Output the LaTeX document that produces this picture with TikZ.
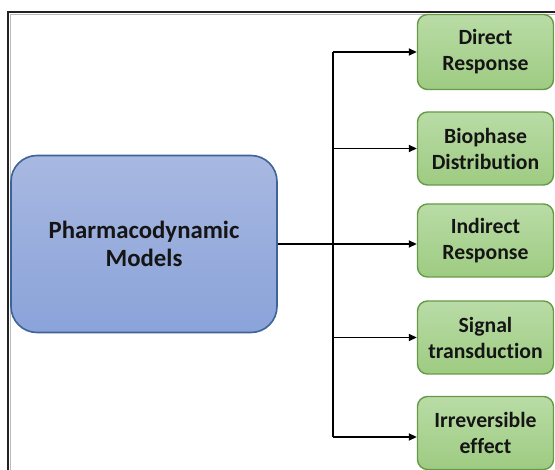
\documentclass[tikz,border=0pt]{standalone}
\usepackage{fontspec}
\setmainfont[Ligatures=NoCommon]{Carlito}
\usetikzlibrary{arrows.meta}
\definecolor{frameline}{HTML}{222222}
\definecolor{frameshade}{HTML}{BBBBBB}
\definecolor{bluetop}{HTML}{A8B8E1}
\definecolor{bluebot}{HTML}{8AA3D9}
\definecolor{blueedge}{HTML}{3F6298}
\definecolor{greentop}{HTML}{B9DCA6}
\definecolor{greenbot}{HTML}{9ECB82}
\definecolor{greenedge}{HTML}{679A47}
\definecolor{inktext}{HTML}{151515}
\tikzset{
  mainbox/.style={draw=blueedge, line width=1.6pt, rounded corners=26pt,
    top color=bluetop, bottom color=bluebot, minimum width=266pt,
    minimum height=177pt, align=center, text=inktext,
    font=\fontsize{24.8}{28.5}\selectfont\bfseries},
  modelbox/.style={draw=greenedge, line width=1.4pt, rounded corners=10pt,
    top color=greentop, bottom color=greenbot, minimum width=136pt,
    minimum height=73pt, align=center, text=inktext,
    font=\fontsize{21.7}{26}\selectfont\bfseries},
  link/.style={line width=1.8pt, draw=black},
  arrowlink/.style={link, -{Triangle[length=8pt,width=7pt]}}
}
\begin{document}
\begin{tikzpicture}[x=1pt,y=-1pt]
\useasboundingbox (0,0) rectangle (555,470);
% page frame
\draw[frameshade, line width=1pt] (10.5,470) -- (10.5,14.5) -- (555,14.5);
\draw[frameline, line width=2.2pt] (8,470) -- (8,12) -- (555,12);

% central node
\node[mainbox] (main) at (144,244) {Pharmacodynamic\\Models};

% model types
\node[modelbox, minimum height=75pt] (n1) at (485.5,52) {Direct\\Response};
\node[modelbox] (n2) at (485.5,148.5) {Biophase\\Distribution};
\node[modelbox] (n3) at (485.5,240.5) {Indirect\\Response};
\node[modelbox] (n4) at (485.5,337.5) {Signal\\transduction};
\node[modelbox] (n5) at (485.5,433) {Irreversible\\effect};

% distribution bus
\coordinate (bustop) at (333,52);
\coordinate (busbot) at (333,437);
\draw[link] (bustop) -- (busbot);
\draw[arrowlink] (bustop) -- (n1.west);
\draw[arrowlink] (bustop |- n2.west) -- (n2.west);
\draw[arrowlink] (main.east) -- (main.east -| n3.west);
\draw[arrowlink] (bustop |- n4.west) -- (n4.west);
\draw[arrowlink] (busbot) -- (busbot -| n5.west);
\end{tikzpicture}
\end{document}
